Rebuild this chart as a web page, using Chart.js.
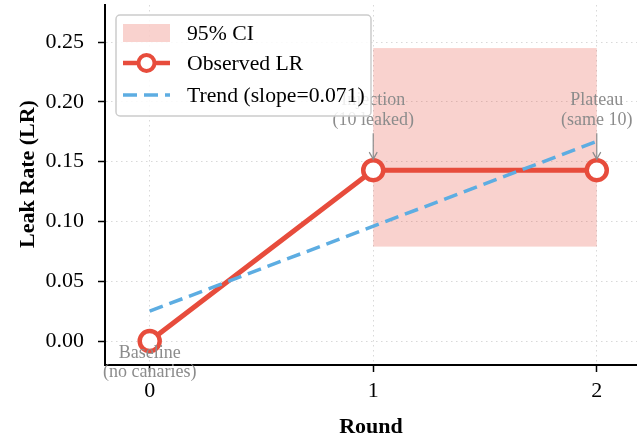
<!DOCTYPE html>
<html>
<head>
<meta charset="utf-8">
<script src="https://cdn.jsdelivr.net/npm/chart.js@4/dist/chart.umd.min.js"></script>
<style>
  html, body { margin: 0; padding: 0; background: #fff; }
  #wrap { width: 637px; height: 440px; }
</style>
</head>
<body>
<div id="wrap"><canvas id="lrChart"></canvas></div>
<script>
// data
const rounds = [0, 1, 2];
const leakRate = [0.0, 0.1429, 0.1429];
const ciRounds = [1, 2];
const ciLow = [0.079, 0.079];
const ciHigh = [0.245, 0.245];
const trendX = [0, 2];
const trendY = [0.025, 0.167];
const notes = ['Baseline\n(no canaries)', 'Injection\n(10 leaked)', 'Plateau\n(same 10)'];
const yTicks = [0, 0.05, 0.10, 0.15, 0.20, 0.25];

const SERIF = "'Liberation Serif', 'Times New Roman', serif";
const RED = '#E74C3C';
const BLUE = '#5DADE2';
const GREY = '#8c8c8c';

// pink CI box, behind the lines
const ciBox = {
  id: 'ciBox',
  beforeDatasetsDraw(chart) {
    const { ctx, scales: { x, y } } = chart;
    const x0 = x.getPixelForValue(ciRounds[0]);
    const x1 = x.getPixelForValue(ciRounds[1]);
    const yTop = y.getPixelForValue(ciHigh[0]);
    const yBot = y.getPixelForValue(ciLow[0]);
    ctx.save();
    ctx.fillStyle = 'rgba(231, 76, 60, 0.25)';
    ctx.fillRect(x0, yTop, x1 - x0, yBot - yTop);
    ctx.restore();
  }
};

// grey annotations with arrows
const notesPlugin = {
  id: 'notes',
  afterDatasetsDraw(chart) {
    const { ctx, scales: { x, y } } = chart;
    ctx.save();
    ctx.font = '18px ' + SERIF;
    ctx.fillStyle = GREY;
    ctx.strokeStyle = GREY;
    ctx.textAlign = 'center';
    ctx.textBaseline = 'middle';
    rounds.forEach((r, i) => {
      const px = x.getPixelForValue(r);
      const py = y.getPixelForValue(leakRate[i]);
      const lines = notes[i].split('\n');
      if (i === 0) {
        ctx.fillText(lines[0], px, py + 12);
        ctx.fillText(lines[1], px, py + 31);
      } else {
        ctx.fillText(lines[0], px, py - 70);
        ctx.fillText(lines[1], px, py - 50);
        ctx.lineWidth = 1.2;
        ctx.beginPath();
        ctx.moveTo(px, py - 37);
        ctx.lineTo(px, py - 11);
        ctx.stroke();
        ctx.beginPath();
        ctx.moveTo(px - 4, py - 18);
        ctx.lineTo(px, py - 11);
        ctx.lineTo(px + 4, py - 18);
        ctx.stroke();
      }
    });
    ctx.restore();
  }
};

// y title (sits a little above the axes centre in the reference)
const yTitle = {
  id: 'yTitle',
  afterDraw(chart) {
    const { ctx } = chart;
    ctx.save();
    ctx.translate(28, 174);
    ctx.rotate(-Math.PI / 2);
    ctx.font = 'bold 22px ' + SERIF;
    ctx.fillStyle = '#000';
    ctx.textAlign = 'center';
    ctx.textBaseline = 'middle';
    ctx.fillText('Leak Rate (LR)', 0, 0);
    ctx.restore();
  }
};

// legend box in the upper left corner
const legendBox = {
  id: 'legendBox',
  afterDraw(chart) {
    const { ctx } = chart;
    const left = 116, top = 15, w = 255, h = 101;
    ctx.save();
    ctx.fillStyle = 'rgba(255,255,255,0.85)';
    ctx.strokeStyle = '#cccccc';
    ctx.lineWidth = 1.5;
    ctx.beginPath();
    ctx.roundRect(left, top, w, h, 4);
    ctx.fill();
    ctx.stroke();

    const hx0 = 123, hx1 = 170, tx = 187;
    const rows = [33, 63, 95];
    ctx.fillStyle = 'rgba(231, 76, 60, 0.25)';
    ctx.fillRect(hx0, rows[0] - 9, hx1 - hx0, 18);

    ctx.strokeStyle = RED;
    ctx.lineWidth = 4.5;
    ctx.beginPath();
    ctx.moveTo(hx0, rows[1]);
    ctx.lineTo(hx1, rows[1]);
    ctx.stroke();
    ctx.lineWidth = 4;
    ctx.beginPath();
    ctx.arc((hx0 + hx1) / 2, rows[1], 8, 0, Math.PI * 2);
    ctx.fillStyle = '#fff';
    ctx.fill();
    ctx.stroke();

    ctx.strokeStyle = BLUE;
    ctx.lineWidth = 3.5;
    ctx.setLineDash([14, 7]);
    ctx.beginPath();
    ctx.moveTo(hx0, rows[2]);
    ctx.lineTo(hx1, rows[2]);
    ctx.stroke();
    ctx.setLineDash([]);

    ctx.fillStyle = '#000';
    ctx.font = '21.7px ' + SERIF;
    ctx.textAlign = 'left';
    ctx.textBaseline = 'middle';
    ctx.fillText('95% CI', tx, rows[0] + 1);
    ctx.fillText('Observed LR', tx, rows[1] + 1);
    ctx.fillText('Trend (slope=0.071)', tx, rows[2] + 1);
    ctx.restore();
  }
};

const ctx = document.getElementById('lrChart').getContext('2d');
new Chart(ctx, {
  type: 'line',
  data: {
    datasets: [
      {
        label: 'Trend (slope=0.071)',
        data: trendX.map((v, i) => ({ x: v, y: trendY[i] })),
        borderColor: BLUE,
        borderWidth: 3.5,
        borderDash: [14, 7],
        pointRadius: 0,
        fill: false
      },
      {
        label: 'Observed LR',
        data: rounds.map((v, i) => ({ x: v, y: leakRate[i] })),
        borderColor: RED,
        borderWidth: 5,
        pointRadius: 10,
        pointBorderWidth: 4.5,
        pointBackgroundColor: '#fff',
        pointBorderColor: RED,
        fill: false
      }
    ]
  },
  options: {
    responsive: true,
    maintainAspectRatio: false,
    animation: false,
    clip: false,
    layout: { padding: 0, autoPadding: false },
    plugins: {
      legend: { display: false },
      tooltip: { enabled: false }
    },
    scales: {
      x: {
        type: 'linear',
        min: -0.2,
        max: 2.18,
        afterBuildTicks: s => { s.ticks = rounds.map(v => ({ value: v })); },
        afterFit: s => {
          s.height = 75;
          s.paddingLeft = 0;
          s.paddingRight = 0;
        },
        ticks: {
          color: '#000',
          font: { family: SERIF, size: 22 },
          padding: 6,
          callback: v => String(v)
        },
        grid: {
          color: '#d9d9d9',
          tickColor: '#000',
          tickLength: 7,
          tickWidth: 1.5
        },
        border: { display: true, color: '#000', width: 2, dash: [1.5, 3.5] },
        title: {
          display: true,
          text: 'Round',
          color: '#000',
          font: { family: SERIF, size: 22, weight: 'bold' },
          padding: { top: 0, bottom: -1 }
        }
      },
      y: {
        min: -0.02,
        max: 0.281,
        afterBuildTicks: s => { s.ticks = yTicks.map(v => ({ value: v })); },
        afterFit: s => {
          s.width = 105;
          s.paddingTop = 5;
          s.paddingBottom = 0;
        },
        ticks: {
          color: '#000',
          font: { family: SERIF, size: 22 },
          padding: 14,
          callback: v => v.toFixed(2)
        },
        grid: {
          color: '#d9d9d9',
          tickColor: '#000',
          tickLength: 7,
          tickWidth: 1.5
        },
        border: { display: true, color: '#000', width: 2, dash: [1.5, 3.5] },
        title: { display: false }
      }
    }
  },
  plugins: [ciBox, notesPlugin, yTitle, legendBox]
});
</script>
</body>
</html>
